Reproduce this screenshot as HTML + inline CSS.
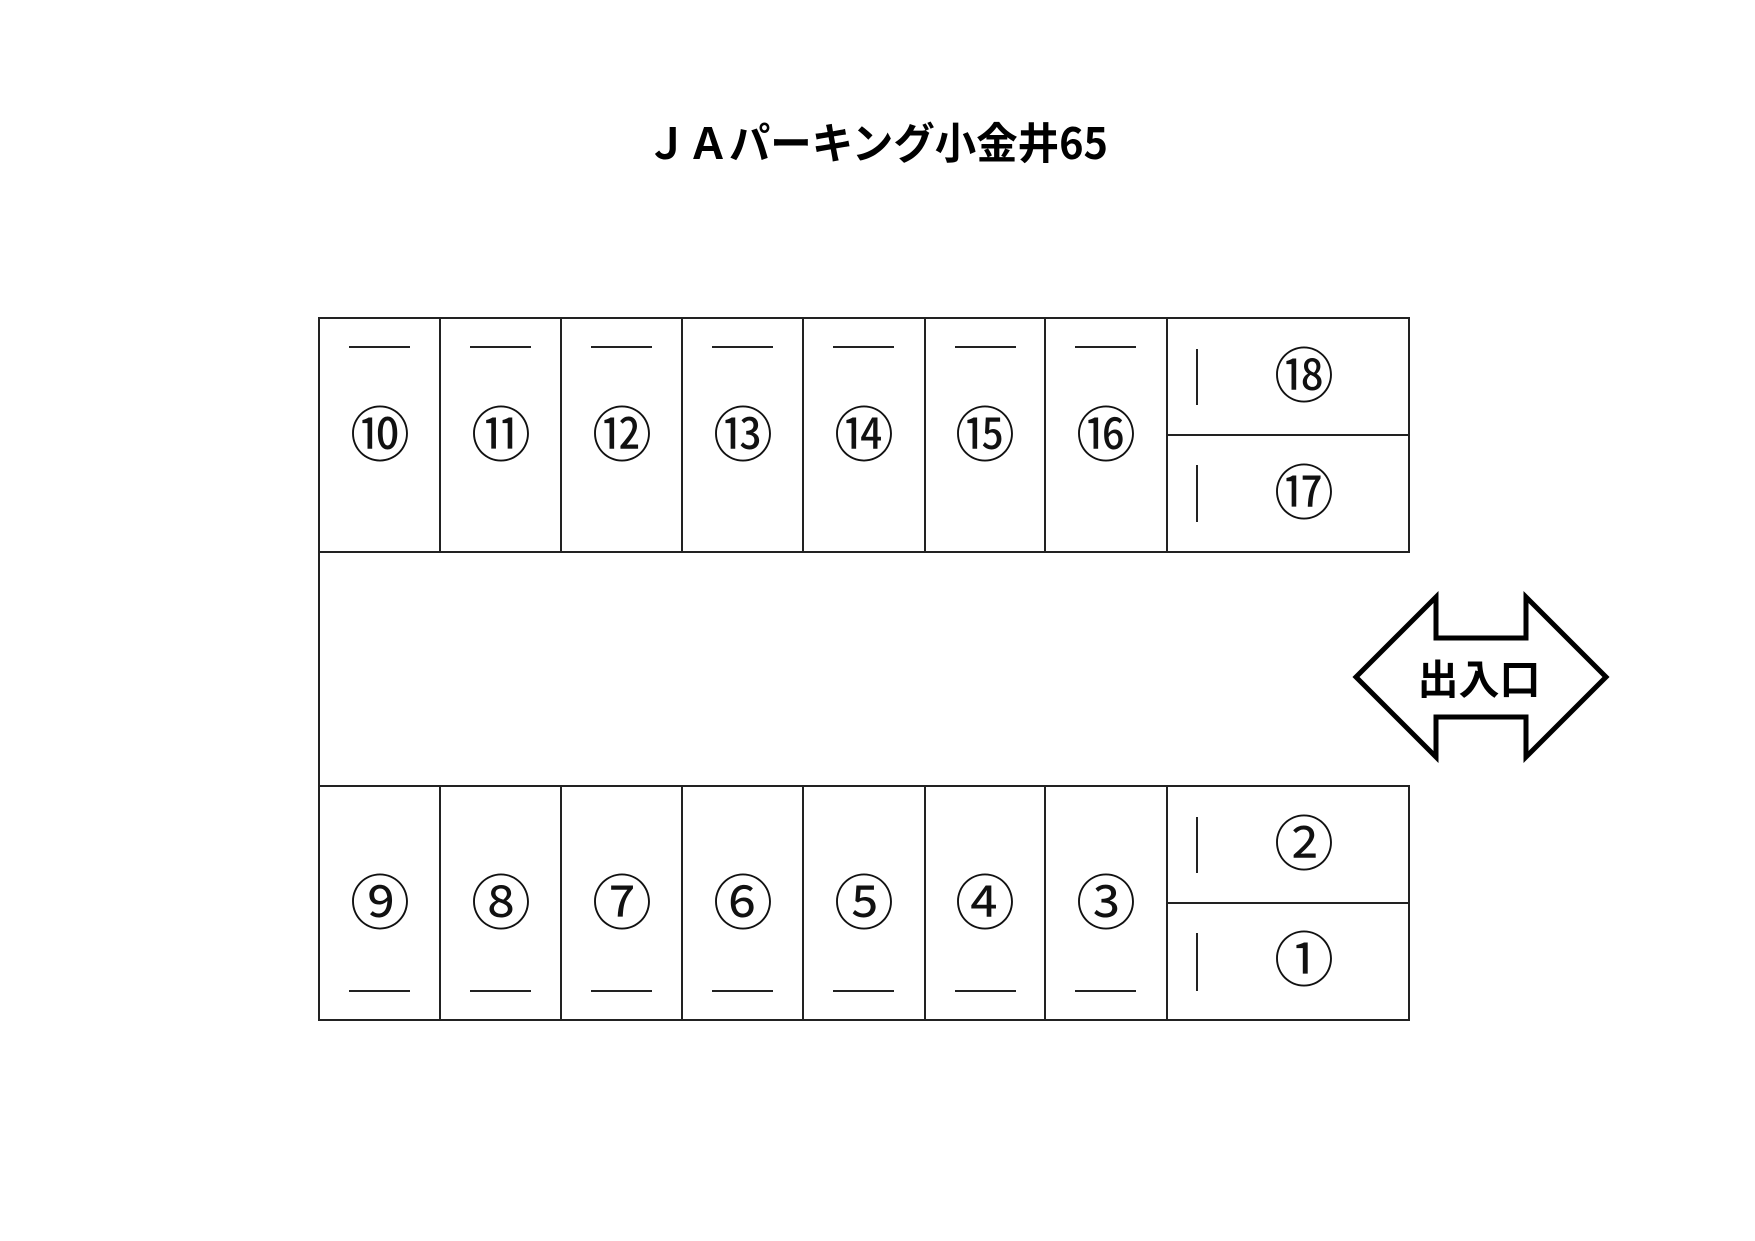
<!DOCTYPE html>
<html><head><meta charset="utf-8"><style>
html,body{margin:0;padding:0;background:#fff}
svg{display:block}
text{font-family:"Liberation Sans","Noto Sans CJK JP",sans-serif}
.n{font-family:"Noto Sans CJK JP",sans-serif;font-size:60px;text-anchor:middle;dominant-baseline:central}
</style></head><body>
<svg width="1755" height="1241" viewBox="0 0 1755 1241" xmlns="http://www.w3.org/2000/svg">
<rect width="1755" height="1241" fill="#fff"/>
<text x="877" y="141" font-size="43" font-weight="bold" text-anchor="middle" dominant-baseline="central" textLength="462" lengthAdjust="spacingAndGlyphs" style="font-family:'Noto Sans CJK JP',sans-serif">ＪＡパーキング小金井65</text>
<g stroke="#222" stroke-width="2" fill="none">
<rect x="319" y="318" width="1090" height="234"/>
<rect x="319" y="786" width="1090" height="234"/>
<line x1="319" y1="552" x2="319" y2="786"/>
<g id="v">
<line x1="440" y1="318" x2="440" y2="552"/><line x1="561" y1="318" x2="561" y2="552"/><line x1="682" y1="318" x2="682" y2="552"/><line x1="803" y1="318" x2="803" y2="552"/><line x1="925" y1="318" x2="925" y2="552"/><line x1="1045" y1="318" x2="1045" y2="552"/><line x1="1167" y1="318" x2="1167" y2="552"/>
</g>
<use href="#v" y="468"/>
<line x1="1167" y1="435" x2="1409" y2="435"/>
<line x1="1167" y1="903" x2="1409" y2="903"/>
<g id="d">
<line x1="349" y1="347" x2="410" y2="347"/><line x1="470" y1="347" x2="531" y2="347"/><line x1="591" y1="347" x2="652" y2="347"/><line x1="712" y1="347" x2="773" y2="347"/><line x1="833" y1="347" x2="894" y2="347"/><line x1="955" y1="347" x2="1016" y2="347"/><line x1="1075" y1="347" x2="1136" y2="347"/>
</g>
<use href="#d" y="644"/>
<line x1="1197" y1="349" x2="1197" y2="405"/>
<line x1="1197" y1="465" x2="1197" y2="522"/>
<line x1="1197" y1="817" x2="1197" y2="873"/>
<line x1="1197" y1="933" x2="1197" y2="991"/>
</g>
<g class="n" fill="#111">
<text class="n" x="380" y="431">⑩</text><text class="n" x="501" y="431">⑪</text><text class="n" x="622" y="431">⑫</text><text class="n" x="743" y="431">⑬</text><text class="n" x="864" y="431">⑭</text><text class="n" x="985" y="431">⑮</text><text class="n" x="1106" y="431">⑯</text>
<text class="n" x="380" y="899">⑨</text><text class="n" x="501" y="899">⑧</text><text class="n" x="622" y="899">⑦</text><text class="n" x="743" y="899">⑥</text><text class="n" x="864" y="899">⑤</text><text class="n" x="985" y="899">④</text><text class="n" x="1106" y="899">③</text>
<text class="n" x="1304" y="372">⑱</text><text class="n" x="1304" y="489">⑰</text>
<text class="n" x="1304" y="840">②</text><text class="n" x="1304" y="956">①</text>
</g>
<polygon points="1356,677 1436,597 1436,638 1526,638 1526,597 1606,677 1526,757 1526,717 1436,717 1436,757" fill="#fff" stroke="#000" stroke-width="5" stroke-linejoin="miter"/>
<text x="1479" y="676" font-size="41" font-weight="bold" text-anchor="middle" dominant-baseline="central" style="font-family:'Noto Sans CJK JP',sans-serif">出入口</text>
</svg>
</body></html>
